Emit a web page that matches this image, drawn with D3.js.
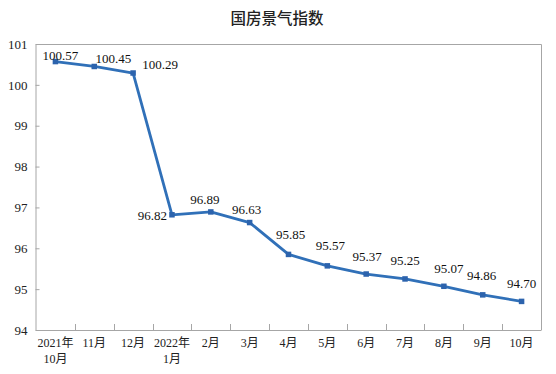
<!DOCTYPE html>
<html lang="zh">
<head>
  <meta charset="UTF-8">
  <title>国房景气指数</title>
  <script src="https://d3js.org/d3.v7.min.js"></script>
  <style>
    body { margin: 0; padding: 0; background: #fff; }
    svg { display: block; }
  </style>
</head>
<body>
  <svg id="chart" width="556" height="374"></svg>
  <script>
    // chart data
    const months = ["2021年\n10月", "11月", "12月", "2022年\n1月", "2月", "3月", "4月",
                    "5月", "6月", "7月", "8月", "9月", "10月"];
    const index = [100.57, 100.45, 100.29, 96.82, 96.89, 96.63, 95.85,
                   95.57, 95.37, 95.25, 95.07, 94.86, 94.70];
    const yTicks = [94, 95, 96, 97, 98, 99, 100, 101];

    // label nudges (layout only), [dx, dy, anchor]
    const labelPos = [
      [5, -2, "middle"], [19, -3, "middle"], [27, -4, "middle"], [-5, 5, "end"],
      [-6, -8, "middle"], [-3, -9, "middle"], [2, -15, "middle"], [3, -16, "middle"],
      [1, -13, "middle"], [0, -14, "middle"], [5, -13, "middle"], [-1, -15, "middle"],
      [0, -13, "middle"]
    ];

    const svg = d3.select("#chart");
    const plotL = 36, plotR = 541, plotT = 44, plotB = 330;
    const axisColor = "#a6a6a6";
    const lineColor = "#3070b8";
    const serif = "'Liberation Serif', 'Times New Roman', 'Noto Sans CJK SC', serif";

    const x = d3.scaleBand().domain(months).range([plotL, plotR]);
    const y = d3.scaleLinear().domain([94, 101]).range([plotB, plotT]);

    // title
    svg.append("text")
      .attr("x", 277).attr("y", 24)
      .attr("text-anchor", "middle")
      .attr("font-family", "'Noto Sans CJK SC', sans-serif")
      .attr("font-size", 15.5)
      .attr("font-weight", 500)
      .attr("fill", "#222")
      .text("国房景气指数");

    // plot frame: top and right
    svg.append("path")
      .attr("d", `M${plotL},${plotT + 0.5}H${plotR + 0.5}V${plotB}`)
      .attr("fill", "none").attr("stroke", axisColor).attr("stroke-width", 1);

    // y axis, ticks inside
    const yAxis = svg.append("g")
      .attr("transform", `translate(${plotL - 0.5},0)`)
      .call(d3.axisLeft(y).tickValues(yTicks).tickSize(-4).tickPadding(8).tickFormat(d3.format("d")));
    yAxis.attr("font-family", serif).attr("font-size", 13);
    yAxis.select(".domain").attr("stroke", axisColor);
    yAxis.selectAll(".tick line").attr("stroke", axisColor);
    yAxis.selectAll(".tick text").attr("fill", "#222");

    // x axis line
    svg.append("line")
      .attr("x1", plotL).attr("x2", plotR + 0.5)
      .attr("y1", plotB + 0.5).attr("y2", plotB + 0.5)
      .attr("stroke", axisColor);

    // category boundary ticks, pointing up
    svg.append("g").selectAll("line")
      .data(months.slice(1))
      .join("line")
      .attr("x1", d => Math.round(x(d)) + 0.5).attr("x2", d => Math.round(x(d)) + 0.5)
      .attr("y1", plotB).attr("y2", plotB - 6)
      .attr("stroke", axisColor);

    // category labels (two lines where needed)
    const xl = svg.append("g")
      .attr("font-family", serif)
      .attr("font-size", 12)
      .selectAll("text")
      .data(months)
      .join("text")
      .attr("fill", "#222")
      .attr("text-anchor", "middle")
      .attr("x", d => x(d) + x.bandwidth() / 2)
      .attr("y", 347);
    xl.selectAll("tspan")
      .data(d => d.split("\n").map(s => ({ s, d })))
      .join("tspan")
      .attr("x", t => x(t.d) + x.bandwidth() / 2)
      .attr("dy", (t, i) => i === 0 ? 0 : 16)
      .text(t => t.s);

    const pts = index.map((v, i) => ({ v, i, cx: x(months[i]) + x.bandwidth() / 2, cy: y(v) }));

    // line
    svg.append("path")
      .datum(pts)
      .attr("d", d3.line().x(d => d.cx).y(d => d.cy))
      .attr("fill", "none")
      .attr("stroke", lineColor)
      .attr("stroke-width", 2.8)
      .attr("stroke-linejoin", "round");

    // markers
    svg.append("g").selectAll("rect")
      .data(pts)
      .join("rect")
      .attr("x", d => d.cx - 2.75).attr("y", d => d.cy - 2.75)
      .attr("width", 5.5).attr("height", 5.5)
      .attr("fill", "#2c63ad");

    // value labels
    svg.append("g")
      .attr("font-family", serif)
      .attr("font-size", 13)
      .selectAll("text")
      .data(pts)
      .join("text")
      .attr("fill", "#111")
      .attr("text-anchor", d => labelPos[d.i][2])
      .attr("x", d => d.cx + labelPos[d.i][0])
      .attr("y", d => d.cy + labelPos[d.i][1])
      .text(d => d.v.toFixed(2));
  </script>
</body>
</html>
